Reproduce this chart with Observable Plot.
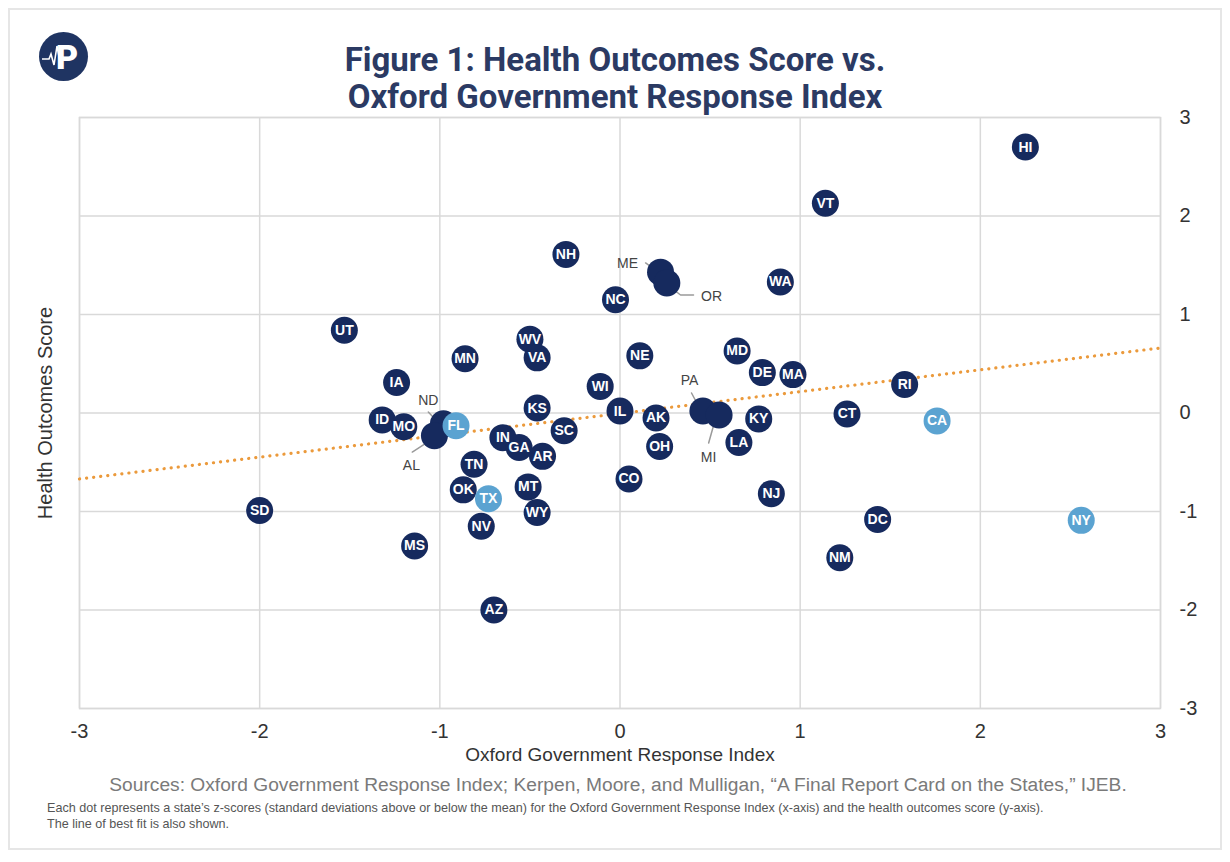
<!DOCTYPE html>
<html><head><meta charset="utf-8">
<script src="https://cdn.jsdelivr.net/npm/d3@7"></script>
<script src="https://cdn.jsdelivr.net/npm/@observablehq/plot@0.6"></script>
<style>
body{margin:0;background:#fff;}
#wrap{position:relative;width:1230px;height:862px;overflow:hidden;font-family:"Liberation Sans",Arial,sans-serif;background:#fff;}
#card{position:absolute;left:8px;top:8px;width:1214px;height:842px;border:2px solid #e6e6e6;box-sizing:border-box;}
#chart{position:absolute;left:0;top:0;}
#title{position:absolute;left:0;width:1230px;top:41px;text-align:center;font-family:Roboto,sans-serif;font-weight:700;font-size:33px;line-height:37px;color:#2b3a63;}
#logo{position:absolute;left:39px;top:32px;}
#sources{position:absolute;left:0;width:1236px;top:774px;text-align:center;font-size:19.2px;color:#7a7a7a;}
#note{position:absolute;left:47px;top:800px;font-size:12.6px;line-height:16px;color:#555;}
</style></head>
<body><div id="wrap">
<div id="card"></div>
<div id="chart"></div>
<svg id="logo" width="50" height="50" viewBox="0 0 50 50">
  <circle cx="24.5" cy="24.5" r="24.5" fill="#1f3462"/>
  <text x="28" y="37" text-anchor="middle" font-family="Roboto" font-weight="900" font-size="34" fill="#fff">P</text>
  <polyline points="3,27 10,27 12,22 15,33 18,14 21,30 23,27 27,27" fill="none" stroke="#fff" stroke-width="1.6"/>
</svg>
<div id="title">Figure 1: Health Outcomes Score vs.<br>Oxford Government Response Index</div>
<div id="sources">Sources: Oxford Government Response Index; Kerpen, Moore, and Mulligan, “A Final Report Card on the States,” IJEB.</div>
<div id="note">Each dot represents a state’s z-scores (standard deviations above or below the mean) for the Oxford Government Response Index (x-axis) and the health outcomes score (y-axis).<br>The line of best fit is also shown.</div>
</div>
<script>
// ---- data ----
const states = ["HI","VT","NH","ME","OR","WA","NC","UT","WV","MN","VA","NE","MD","DE","MA","IA","WI","RI","PA","MI","KS","IL","AK","KY","CT","CA","ID","MO","ND","AL","FL","SC","IN","GA","AR","LA","OH","TN","CO","MT","OK","TX","NJ","SD","WY","NV","DC","NY","MS","NM","AZ"];
const oxford = [2.25,1.14,-0.30,0.225,0.26,0.89,-0.025,-1.53,-0.50,-0.86,-0.46,0.11,0.65,0.79,0.96,-1.24,-0.11,1.58,0.46,0.55,-0.46,0.00,0.20,0.77,1.26,1.76,-1.32,-1.20,-0.98,-1.03,-0.91,-0.31,-0.65,-0.56,-0.43,0.66,0.22,-0.81,0.05,-0.51,-0.87,-0.73,0.84,-2.00,-0.46,-0.77,1.43,2.56,-1.14,1.22,-0.70];
const health = [2.70,2.13,1.61,1.43,1.32,1.33,1.15,0.84,0.75,0.55,0.56,0.58,0.63,0.41,0.39,0.31,0.27,0.29,0.02,-0.02,0.05,0.02,-0.05,-0.06,-0.01,-0.08,-0.07,-0.14,-0.11,-0.23,-0.13,-0.18,-0.25,-0.35,-0.44,-0.30,-0.34,-0.52,-0.67,-0.75,-0.78,-0.87,-0.82,-0.99,-1.01,-1.15,-1.08,-1.09,-1.35,-1.47,-2.00];
const highlighted = ["FL","TX","CA","NY"];
const xTicks = [-3,-2,-1,0,1,2,3];
const yTicks = [-3,-2,-1,0,1,2,3];
const fitX = [-3, 3];
const fitY = [-0.67, 0.66];
// callout labels for overlapping dots
const calloutState = ["ME","OR","PA","MI","ND","AL"];
const calloutX = [0.042,0.508,0.386,0.492,-1.064,-1.158];
const calloutY = [1.513,1.178,0.325,-0.457,0.122,-0.538];
const leaderId = ["ME","ME","OR","OR","OR","PA","PA","MI","MI","ND","ND","AL","AL"];
const leaderX = [0.142,0.236, 0.264,0.336,0.408, 0.397,0.453, 0.531,0.492, -1.064,-0.986, -1.153,-1.025];
const leaderY = [1.523,1.401, 1.30,1.198,1.198, 0.203,0.010, -0.051,-0.305, 0.010,-0.142, -0.396,-0.244];

const navy = "#162a5e", light = "#5ba3d1";
const data = states.map((s,i)=>({state:s, x:oxford[i], y:health[i], hl:highlighted.includes(s)}));
const callouts = calloutState.map((s,i)=>({state:s, x:calloutX[i], y:calloutY[i]}));
const leaders = leaderId.map((s,i)=>({id:s, x:leaderX[i], y:leaderY[i]}));
const fit = fitX.map((x,i)=>({x, y:fitY[i]}));
const fmt = d => String(d);

const chart = Plot.plot({
  width:1230, height:780,
  marginTop:117, marginBottom:72, marginLeft:79, marginRight:70,
  x:{domain:[-3,3], label:null},
  y:{domain:[-3,3], label:null},
  style:{fontFamily:"'Liberation Sans', Arial, sans-serif", fontSize:"20px", color:"#333", background:"transparent", overflow:"visible"},
  marks:[
    Plot.gridX(xTicks,{stroke:"#d9d9d9", strokeOpacity:1, strokeWidth:1.5}),
    Plot.gridY(yTicks,{stroke:"#d9d9d9", strokeOpacity:1, strokeWidth:1.5}),
    Plot.frame({stroke:"#d9d9d9", strokeWidth:1.5}),
    Plot.axisX(xTicks,{tickSize:0, tickPadding:15, fontSize:20, fill:"#333", label:null, tickFormat:fmt}),
    Plot.axisY(yTicks,{anchor:"right", tickSize:0, tickPadding:19, fontSize:20, fill:"#333", label:null, tickFormat:fmt}),
    Plot.text(["Oxford Government Response Index"],{frameAnchor:"bottom", dy:52, fontSize:19, fill:"#333"}),
    Plot.text(["Health Outcomes Score"],{frameAnchor:"left", textAnchor:"middle", dx:-34, rotate:-90, fontSize:20, fill:"#333"}),
    Plot.line(fit,{x:"x", y:"y", stroke:"#eb9a3c", strokeWidth:3.2, strokeDasharray:"0.1 7", strokeLinecap:"round"}),
    Plot.line(leaders,{x:"x", y:"y", z:"id", stroke:"#9a9a9a", strokeWidth:1.5}),
    Plot.dot(data,{x:"x", y:"y", r:13.5, fill:d=>d.hl?light:navy}),
    Plot.text(data.filter(d=>!calloutState.includes(d.state)),{x:"x", y:"y", text:"state", fill:"white", fontSize:14, fontWeight:600}),
    Plot.text(callouts,{x:"x", y:"y", text:"state", fill:"#444", fontSize:14})
  ]
});
document.getElementById("chart").appendChild(chart);
</script>
</body></html>
